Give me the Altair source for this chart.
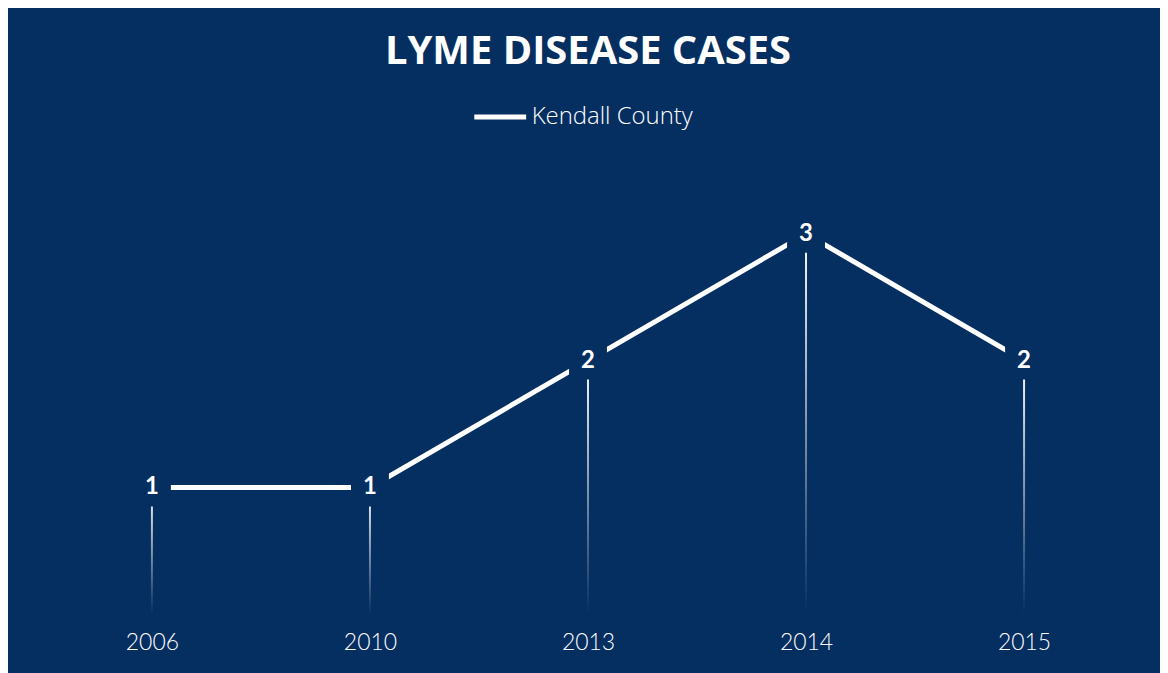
import altair as alt
import pandas as pd

years = ["2006", "2010", "2013", "2014", "2015"]
cases = [1, 1, 2, 3, 2]
series = ["Kendall County"] * 5

NAVY = "#052E61"
FONT = "Lato"
TFONT = "Open Sans"

df = pd.DataFrame({"year": years, "cases": cases, "series": series})

x = alt.X(
    "year:O",
    sort=years,
    scale=alt.Scale(type="point", padding=0.5),
    axis=alt.Axis(
        title=None, labelAngle=0, domain=False, ticks=False, grid=False,
        labelFont=FONT, labelFontSize=23, labelColor="white",
        labelPadding=17, labelFontWeight=300,
    ),
)
y = alt.Y("cases:Q", scale=alt.Scale(domain=[0, 3.5]), axis=None)

base = alt.Chart(df).encode(x=x)

grad = alt.Gradient(
    gradient="linear",
    stops=[alt.GradientStop(color="#ffffff", offset=0),
           alt.GradientStop(color=NAVY, offset=1)],
    x1=0, x2=0, y1=0, y2=1,
)

line = base.mark_line(strokeWidth=5).encode(
    y=y,
    color=alt.Color(
        "series:N",
        scale=alt.Scale(range=["#ffffff"]),
        legend=alt.Legend(
            title=None, orient="none", legendX=430, legendY=-82,
            symbolType="stroke", symbolStrokeWidth=5, symbolSize=2704,
            labelFont=TFONT, labelFontSize=24, labelFontWeight=300,
            labelColor="white", labelOffset=3, labelLimit=400,
        ),
    ),
)

drops = base.mark_bar(size=2, color=grad).encode(y=y)

boxes = base.mark_square(size=1444, color=NAVY, opacity=1, filled=True).encode(y=y)

labels = base.mark_text(
    font=FONT, fontSize=24, fontWeight="bold", color="white", baseline="middle"
).encode(y=y, text="cases:Q")

chart = (
    alt.layer(line, drops, boxes, labels)
    .properties(
        width=1093,
        height=445,
        padding={"left": 35, "top": 162, "right": 27, "bottom": 60},
        autosize=alt.AutoSizeParams(type="none"),
        background=NAVY,
        title=alt.TitleParams(
            "LYME DISEASE CASES", font=TFONT, fontSize=40, fontWeight="bold",
            color="white", anchor="middle", offset=17,
        ),
    )
    .configure_view(stroke=None)
)

chart.save("out.html", embed_options={"renderer": "svg", "actions": False})
